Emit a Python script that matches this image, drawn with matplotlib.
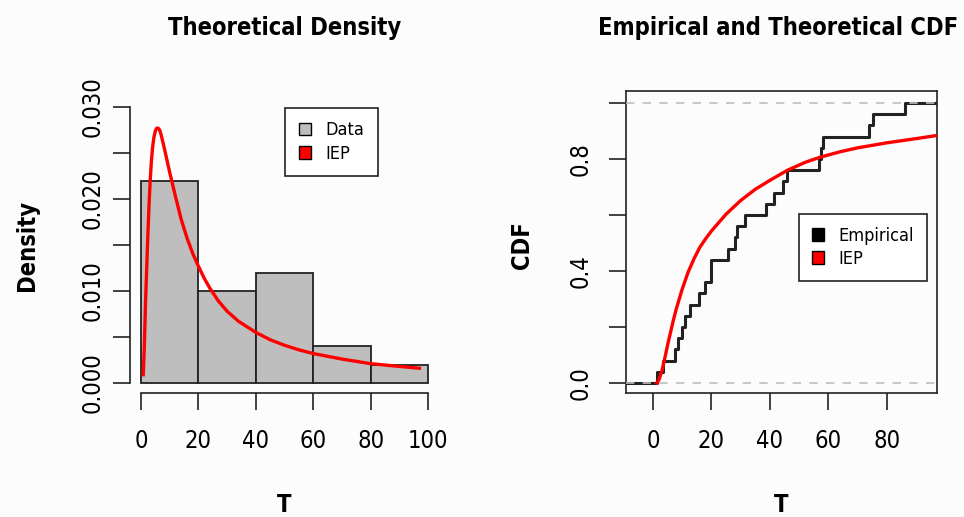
import numpy as np
import matplotlib
matplotlib.use('Agg')
import matplotlib.pyplot as plt
from matplotlib.patches import Patch
from matplotlib import font_manager

# histogram (density per 20-wide bin)
bin_left = [0, 20, 40, 60, 80]
hist_density = [0.022, 0.010, 0.012, 0.004, 0.002]

# fitted IEP density
dens_x = [0.8, 1.2, 1.6, 2.0, 2.4, 2.8, 3.2, 3.6, 4.0, 4.5, 5.0, 5.5, 6.0, 6.5, 7.0,
          8.0, 9.0, 10.0, 12.0, 14.0, 16.0, 18.0, 20.0, 22.0, 24.0, 27.0, 30.0,
          34.0, 40.0, 45.0, 50.0, 55.0, 60.0, 70.0, 80.0, 90.0, 97.0]
dens_y = [0.0009, 0.0043, 0.0089, 0.0125, 0.0161, 0.0193, 0.0219, 0.0240, 0.0255,
          0.0267, 0.0274, 0.0277, 0.0277, 0.0275, 0.0270, 0.0257, 0.0243, 0.0229,
          0.0203, 0.0178, 0.0158, 0.0141, 0.0127, 0.0114, 0.0103, 0.0089, 0.0078,
          0.0067, 0.0055, 0.0047, 0.0041, 0.0036, 0.0032, 0.0026, 0.0021, 0.0018,
          0.0016]

# observed times (jump points of the empirical CDF)
t_obs = [1.3, 3.5, 7.6, 8.7, 9.8, 10.9, 12.6, 15.8, 17.9, 20.0, 20.0, 25.7, 28.0,
         28.8, 31.6, 38.6, 41.5, 44.6, 45.7, 56.6, 57.3, 58.0, 74.0, 75.2, 86.2]

# fitted IEP cdf
cdf_x = [1.3, 2, 3, 4, 5, 6, 7, 8, 9, 10, 12, 14, 16, 18, 20, 25, 30, 35, 40, 46,
         52, 57, 64, 70, 80, 90, 97]
cdf_y = [0.0, 0.01, 0.04, 0.085, 0.135, 0.18, 0.225, 0.265, 0.30, 0.335, 0.395,
         0.443, 0.484, 0.515, 0.543, 0.603, 0.652, 0.692, 0.724, 0.76, 0.788,
         0.806, 0.826, 0.84, 0.858, 0.873, 0.884]

names = {f.name for f in font_manager.fontManager.ttflist}
if 'Liberation Sans Narrow' in names:
    plt.rcParams['font.family'] = ['Liberation Sans Narrow', 'DejaVu Sans']
    fs_tick, fs_lab, fs_title, fs_leg = 20, 20, 20, 15
else:
    plt.rcParams['font.family'] = ['DejaVu Sans']
    plt.rcParams['font.stretch'] = 'condensed'
    fs_tick, fs_lab, fs_title, fs_leg = 17, 17, 17, 13

W, H = 964, 517
fig = plt.figure(figsize=(W / 100, H / 100), dpi=100)
fig.patch.set_facecolor('#fcfcfc')

axcol = '#222222'
gray = '#bebebe'

# ---- left panel: theoretical density ----
ax1 = fig.add_axes([129.5 / W, 124 / H, 310 / W, 302 / H])
ax1.set_facecolor('#fcfcfc')
ax1.set_xlim(-4.0, 104.0)
ax1.set_ylim(-0.00109, 0.03174)
ax1.bar(bin_left, hist_density, width=20, align='edge', color=gray,
        edgecolor=axcol, linewidth=1.3)
ax1.plot(dens_x, dens_y, color='red', lw=2.4, solid_joinstyle='round')

for s in ['top', 'right']:
    ax1.spines[s].set_visible(False)
ax1.spines['left'].set_bounds(0, 0.03)
ax1.spines['bottom'].set_bounds(0, 100)
for s in ['left', 'bottom']:
    ax1.spines[s].set_linewidth(1.2)
    ax1.spines[s].set_color(axcol)
ax1.set_xticks([0, 20, 40, 60, 80, 100])
ax1.set_yticks([0, 0.005, 0.01, 0.015, 0.02, 0.025, 0.03])
ax1.set_yticklabels(['0.000', '', '0.010', '', '0.020', '', '0.030'])
ax1.tick_params(direction='out', length=12, width=1.2, color=axcol,
                labelsize=fs_tick)
ax1.tick_params(axis='x', pad=14)
ax1.tick_params(axis='y', pad=6)
plt.setp(ax1.get_yticklabels(), rotation=90, va='center')

leg1 = ax1.legend([Patch(facecolor=gray, edgecolor='black', lw=1),
                   Patch(facecolor='red', edgecolor='black', lw=1)],
                  ['Data', 'IEP'], loc='upper left', bbox_to_anchor=(0.502, 0.944),
                  borderaxespad=0, fancybox=False, edgecolor=axcol, framealpha=1,
                  handlelength=0.7, handleheight=0.7, handletextpad=0.8,
                  borderpad=0.75, labelspacing=0.3, fontsize=fs_leg)
leg1.get_frame().set_linewidth(1.2)

# ---- right panel: empirical and theoretical CDF ----
ax2 = fig.add_axes([626 / W, 124 / H, 311 / W, 302 / H])
ax2.set_facecolor('#fcfcfc')
ax2.set_xlim(-9.2, 97.1)
ax2.set_ylim(-0.0357, 1.043)
xl, xr = ax2.get_xlim()
n = len(t_obs)
ax2.step(np.r_[xl, t_obs, xr], np.r_[0, np.arange(1, n + 1) / n, 1], where='post',
         color=axcol, lw=2.2, zorder=2)
for h in [0, 1]:
    ax2.axhline(h, color=gray, lw=1.2, ls=(0, (5, 5)), zorder=3)
ax2.plot(cdf_x, cdf_y, color='red', lw=2.4, zorder=4, solid_joinstyle='round')

for s in ax2.spines.values():
    s.set_linewidth(1.2)
    s.set_color(axcol)
ax2.set_xticks([0, 20, 40, 60, 80])
ax2.set_yticks([0, 0.2, 0.4, 0.6, 0.8, 1.0])
ax2.set_yticklabels(['0.0', '', '0.4', '', '0.8', ''])
ax2.tick_params(direction='out', length=12, width=1.2, color=axcol,
                labelsize=fs_tick)
ax2.tick_params(axis='x', pad=14)
ax2.tick_params(axis='y', pad=12)
plt.setp(ax2.get_yticklabels(), rotation=90, va='center')

leg2 = ax2.legend([Patch(facecolor='black', edgecolor='black', lw=1),
                   Patch(facecolor='red', edgecolor='black', lw=1)],
                  ['Empirical', 'IEP'], loc='upper left', bbox_to_anchor=(0.556, 0.593),
                  borderaxespad=0, fancybox=False, edgecolor=axcol, framealpha=1,
                  handlelength=0.7, handleheight=0.7, handletextpad=0.8,
                  borderpad=0.7, labelspacing=0.3, fontsize=fs_leg)
leg2.get_frame().set_linewidth(1.2)

# titles and axis labels
fig.text(284.5 / W, 1 - 28 / H, 'Theoretical Density', ha='center', va='center',
         fontsize=fs_title, fontweight='bold')
fig.text(778 / W, 1 - 28 / H, 'Empirical and Theoretical CDF', ha='center',
         va='center', fontsize=fs_title, fontweight='bold')
fig.text(284.5 / W, 1 - 505 / H, 'T', ha='center', va='center', fontsize=fs_lab,
         fontweight='bold')
fig.text(781.5 / W, 1 - 505 / H, 'T', ha='center', va='center', fontsize=fs_lab,
         fontweight='bold')
fig.text(27 / W, 1 - 245 / H, 'Density', ha='center', va='center', rotation=90,
         fontsize=fs_lab, fontweight='bold')
fig.text(522 / W, 1 - 245 / H, 'CDF', ha='center', va='center', rotation=90,
         fontsize=fs_lab, fontweight='bold')

fig.savefig('out.png', dpi=100, facecolor=fig.get_facecolor())
